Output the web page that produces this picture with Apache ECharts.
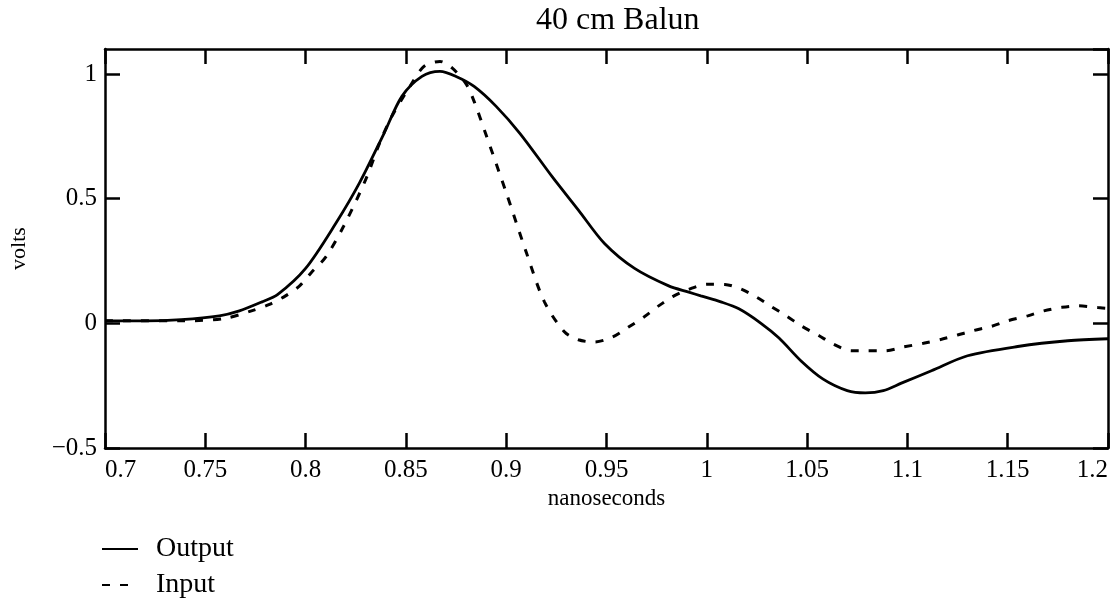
<!DOCTYPE html>
<html>
<head>
<meta charset="utf-8">
<script src="https://cdn.jsdelivr.net/npm/echarts@6/dist/echarts.min.js"></script>
<style>
html,body{margin:0;padding:0;background:#fff;}
#c{width:1117px;height:600px;}
</style>
</head>
<body>
<div id="c"></div>
<script>
var titleText = '40 cm Balun';
var xName = 'nanoseconds';
var yName = 'volts';
var seriesNames = ['Output', 'Input'];

var outputT = [0.700,0.720,0.738,0.757,0.767,0.778,0.786,0.800,0.815,0.827,0.839,0.848,0.858,0.867,0.875,0.884,0.895,0.907,0.923,0.936,0.949,0.964,0.981,0.991,0.997,1.007,1.016,1.027,1.036,1.047,1.058,1.070,1.079,1.088,1.097,1.112,1.130,1.155,1.180,1.200];
var outputV = [0.010,0.010,0.015,0.030,0.050,0.085,0.115,0.220,0.400,0.565,0.760,0.910,0.990,1.010,0.990,0.950,0.870,0.760,0.587,0.454,0.320,0.220,0.150,0.125,0.110,0.086,0.058,0.000,-0.059,-0.151,-0.224,-0.270,-0.279,-0.270,-0.240,-0.190,-0.130,-0.093,-0.070,-0.062];

var inputT = [0.700,0.740,0.760,0.773,0.782,0.790,0.797,0.803,0.810,0.819,0.830,0.837,0.843,0.852,0.859,0.867,0.873,0.880,0.884,0.890,0.900,0.910,0.919,0.929,0.936,0.944,0.953,0.961,0.969,0.976,0.983,0.991,1.000,1.009,1.017,1.025,1.032,1.040,1.047,1.056,1.063,1.072,1.080,1.089,1.098,1.108,1.117,1.125,1.133,1.142,1.150,1.160,1.168,1.177,1.185,1.195,1.200];
var inputV = [0.010,0.010,0.020,0.050,0.076,0.110,0.150,0.205,0.265,0.390,0.577,0.725,0.830,0.950,1.030,1.050,1.024,0.960,0.890,0.755,0.524,0.285,0.087,-0.034,-0.066,-0.075,-0.055,-0.015,0.027,0.070,0.107,0.136,0.157,0.156,0.138,0.104,0.068,0.028,-0.010,-0.050,-0.083,-0.110,-0.110,-0.110,-0.095,-0.080,-0.064,-0.047,-0.029,-0.012,0.010,0.030,0.050,0.064,0.070,0.063,0.060];

var xMin = 0.7, xMax = 1.2, xStep = 0.05;
var yMin = -0.5, yMax = 1.1, yStep = 0.5;

function pairs(t, v) { return t.map(function (x, i) { return [x, v[i]]; }); }

var serif = '"Liberation Serif", "DejaVu Serif", serif';
var axisCommon = {
  type: 'value',
  axisLine: { show: true, onZero: false, lineStyle: { color: '#000', width: 2.5 } },
  axisTick: { show: true, inside: true, length: 15, lineStyle: { color: '#000', width: 2.5 } },
  splitLine: { show: false }
};

var chart = echarts.init(document.getElementById('c'), null, { renderer: 'canvas' });
chart.setOption({
  animation: false,
  backgroundColor: '#fff',
  title: {
    text: titleText, left: 531, top: 0,
    textStyle: { fontFamily: serif, fontWeight: 'normal', fontSize: 32, color: '#000' }
  },
  grid: { left: 101, right: 9, top: 49, bottom: 152, containLabel: false },
  legend: {
    orient: 'vertical', left: 96, top: 529, height: 70, itemGap: 6,
    itemWidth: 36, itemHeight: 16,
    itemStyle: { color: 'rgba(0,0,0,0)', borderColor: 'rgba(0,0,0,0)', borderWidth: 0, opacity: 0 },
    textStyle: { fontFamily: serif, fontSize: 28, lineHeight: 30, color: '#000', padding: [0, 0, 0, 13] },
    data: seriesNames
  },
  xAxis: [
    Object.assign({}, axisCommon, {
      min: xMin, max: xMax, interval: xStep, position: 'bottom',
      name: xName, nameLocation: 'middle', nameGap: 36,
      nameTextStyle: { fontFamily: serif, fontSize: 23, color: '#000' },
      axisLabel: {
        margin: 10, fontFamily: serif, fontSize: 25, color: '#000',
        alignMinLabel: 'left', alignMaxLabel: 'right',
        formatter: function (v) { return String(+v.toFixed(2)); }
      }
    }),
    Object.assign({}, axisCommon, {
      min: xMin, max: xMax, interval: xStep, position: 'top',
      axisLabel: { show: false }
    })
  ],
  yAxis: [
    Object.assign({}, axisCommon, {
      min: yMin, max: yMax, interval: yStep, position: 'left',
      name: yName, nameLocation: 'middle', nameGap: 75, nameRotate: 90,
      nameTextStyle: { fontFamily: serif, fontSize: 22, color: '#000' },
      axisLabel: {
        margin: 8, fontFamily: serif, fontSize: 25, color: '#000', showMaxLabel: false,
        formatter: function (v) { var s = String(+v.toFixed(2)); return s.replace('-', '\u2212'); }
      }
    }),
    Object.assign({}, axisCommon, {
      min: yMin, max: yMax, interval: yStep, position: 'right',
      axisLabel: { show: false }
    })
  ],
  series: [
    {
      name: seriesNames[0], type: 'line', data: pairs(outputT, outputV),
      showSymbol: false, symbol: 'none', smooth: 0.3,
      lineStyle: { color: '#000', width: 2.8, type: 'solid' },
      itemStyle: { color: '#000' }
    },
    {
      name: seriesNames[1], type: 'line', data: pairs(inputT, inputV),
      showSymbol: false, symbol: 'none', smooth: 0.3,
      lineStyle: { color: '#000', width: 3, type: [8, 10] },
      itemStyle: { color: '#000' }
    }
  ]
});
</script>
</body>
</html>
